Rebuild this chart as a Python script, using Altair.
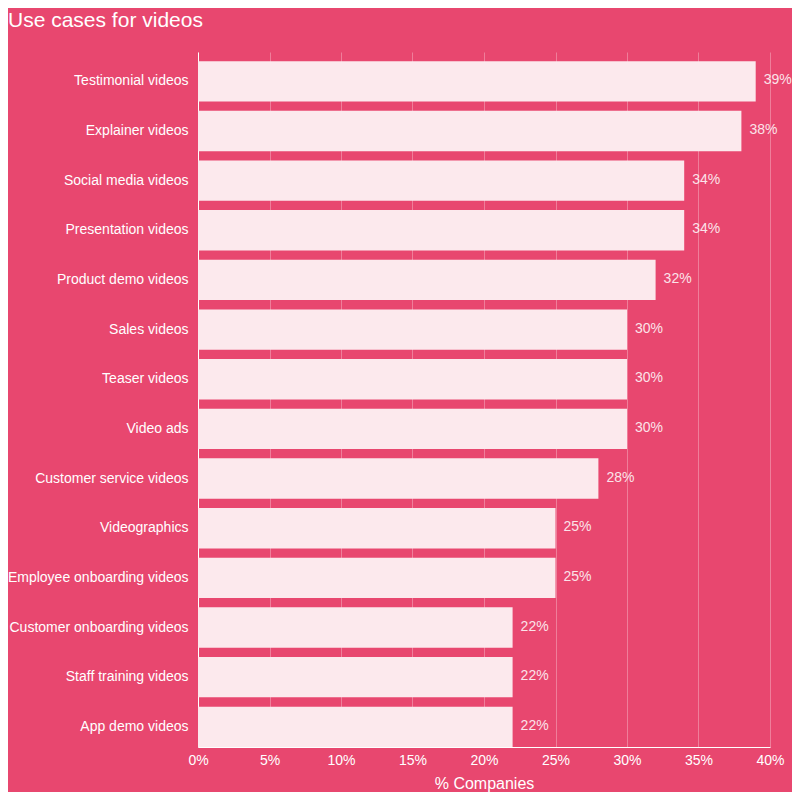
import altair as alt
import pandas as pd

categories = ["Testimonial videos", "Explainer videos", "Social media videos", "Presentation videos",
              "Product demo videos", "Sales videos", "Teaser videos", "Video ads",
              "Customer service videos", "Videographics", "Employee onboarding videos",
              "Customer onboarding videos", "Staff training videos", "App demo videos"]
values = [39, 38, 34, 34, 32, 30, 30, 30, 28, 25, 25, 22, 22, 22]
labels = [f"{v}%" for v in values]
tick_values = [0, 0.05, 0.1, 0.15, 0.2, 0.25, 0.3, 0.35, 0.4]
title_text = "Use cases for videos"

df = pd.DataFrame({"cat": categories, "val": [v / 100 for v in values], "lab": labels})

BG = "#E8476F"
FONT = "Liberation Sans"

y = alt.Y("cat:N", sort=categories, title=None,
          scale=alt.Scale(paddingInner=0.187, paddingOuter=0.092, align=1),
          axis=alt.Axis(labelColor="#FFFFFF", labelFontSize=14, labelFont=FONT, ticks=False,
                        domainColor="#FFFFFF", domainWidth=1, labelPadding=10, grid=False,
                        labelLimit=300))

bars = alt.Chart(df).mark_bar(color="#FCE9ED").encode(
    x=alt.X("val:Q", scale=alt.Scale(domain=[0, 0.4]), title="% Companies",
            axis=alt.Axis(format=".0%", values=tick_values, labelFlush=False,
                          labelColor="#FFFFFF", labelFontSize=14, labelFont=FONT, ticks=False,
                          domainColor="#FFFFFF", gridColor="#FFFFFF", gridOpacity=0.3,
                          titleColor="#FFFFFF", titleFontSize=16, titleFont=FONT,
                          titleFontWeight="normal", labelPadding=6, titlePadding=8)),
    y=y,
)

text = alt.Chart(df).mark_text(align="left", baseline="middle", dx=8, dy=-1, fontSize=14,
                               font=FONT, color="#FFFFFF", opacity=0.85).encode(
    x="val:Q", y=alt.Y("cat:N", sort=categories), text="lab:N")

title = alt.Chart(pd.DataFrame({"t": [title_text]})).mark_text(
    align="left", baseline="alphabetic", fontSize=21, font=FONT, color="#FFFFFF"
).encode(x=alt.value(-190), y=alt.value(-25), text="t:N")

chart = (bars + text + title).properties(
    width=572, height=695, background=BG,
    autosize=alt.AutoSizeParams(type="none"),
    padding={"left": 190, "top": 44, "right": 22, "bottom": 45},
).configure_view(stroke=None)

chart.save("out.html", embed_options={"renderer": "svg", "actions": False})
